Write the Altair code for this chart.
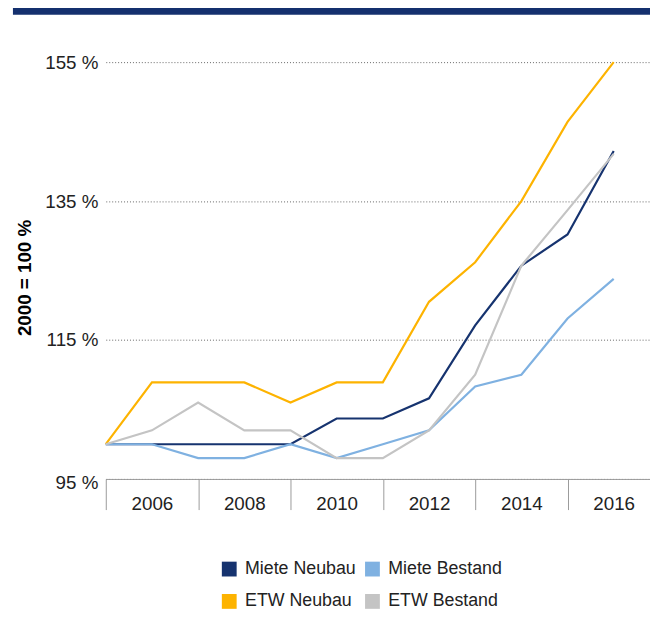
import altair as alt
import pandas as pd

years = list(range(2005, 2017))
series_names = ["Miete Neubau", "Miete Bestand", "ETW Neubau", "ETW Bestand"]
miete_neubau = [100, 100, 100, 100, 100, 103.7, 103.7, 106.6, 117.1, 125.7, 130.2, 142.2]
miete_bestand = [100, 100, 98, 98, 100, 98, 100, 102, 108.3, 110, 118.1, 123.8]
etw_neubau = [100, 108.9, 108.9, 108.9, 106, 108.9, 108.9, 120.5, 126.2, 135, 146.4, 155]
etw_bestand = [100, 102, 106, 102, 102, 98, 98, 102, 110, 125.7, 133.7, 141.8]
colors = ["#16336f", "#7fb1e1", "#fdb300", "#c4c4c4"]
y_ticks = [95, 115, 135, 155]
x_label_years = [2006, 2008, 2010, 2012, 2014, 2016]
x_sep_years = [2005, 2007, 2009, 2011, 2013, 2015, 2017]

FONT = "Liberation Sans, Arial, sans-serif"
TXT = "#222222"

rows = []
for name, vals in zip(series_names, [miete_neubau, miete_bestand, etw_neubau, etw_bestand]):
    for y, v in zip(years, vals):
        rows.append({"year": y, "value": v, "series": name})
df = pd.DataFrame(rows)

xscale = alt.Scale(domain=[2005, 2017], range=[0, 561], nice=False, zero=False)

lines = alt.Chart(df).mark_line(strokeWidth=2.2).encode(
    x=alt.X("year:Q", scale=xscale,
            axis=alt.Axis(orient="bottom", values=x_sep_years, labels=False,
                          tickSize=31, tickColor="#9a9a9a", domainColor="#9a9a9a",
                          tickWidth=1, domainWidth=1, grid=False, title=None)),
    y=alt.Y("value:Q", scale=alt.Scale(domain=[95, 155], nice=False, zero=False),
            axis=alt.Axis(values=y_ticks, labelExpr="datum.value + ' %'", ticks=False,
                          domain=False, grid=True, gridDash=[1, 2], gridColor="#666666",
                          gridWidth=1, labelPadding=8, labelFont=FONT, labelFontSize=19,
                          labelColor=TXT, labelBaseline="middle",
                          labelOffset={"condition": {"test": "datum.value == 95", "value": 4}, "value": 0},
                          title="2000 = 100 %", titleFont=FONT, titleFontSize=19,
                          titleFontWeight="bold", titleColor="#000000",
                          titleX=-82, titleY=218, titleAlign="center",
                          titleBaseline="middle", titleAngle=270)),
    color=alt.Color("series:N", sort=series_names,
                    scale=alt.Scale(domain=series_names, range=colors),
                    legend=alt.Legend(orient="none", legendX=116, legendY=504,
                                      direction="horizontal",
                                      columns=2, title=None, symbolType="square",
                                      symbolSize=49, symbolStrokeWidth=8,
                                      labelFont=FONT, labelFontSize=18,
                                      labelColor=TXT, columnPadding=-4,
                                      rowPadding=-7, labelOffset=7, padding=0)),
    order=alt.Order("year:Q"),
)

labels_layer = alt.Chart(pd.DataFrame({"year": x_label_years})).mark_point(opacity=0).encode(
    x=alt.X("year:Q", scale=xscale,
            axis=alt.Axis(orient="bottom", values=x_label_years, ticks=False, tickSize=0,
                          domain=False, grid=False, title=None, labelPadding=25,
                          labelBaseline="middle", labelFont=FONT, labelFontSize=19,
                          labelColor=TXT, labelOverlap=False, labelFlush=False,
                          format="d")),
    y=alt.value(0),
)

bar = alt.Chart(pd.DataFrame({"a": [0]})).mark_rule(color="#14306e", strokeWidth=8).encode(
    x=alt.value(-94), x2=alt.value(560), y=alt.value(-52)
)

chart = alt.layer(bar, lines, labels_layer).resolve_axis(x="independent").properties(
    width=551, height=422,
    padding={"left": 99, "top": 51, "right": 0, "bottom": 140},
    autosize=alt.AutoSizeParams(type="none"),
).configure_view(stroke=None)

chart.save("out.html", embed_options={"renderer": "svg", "actions": False})
